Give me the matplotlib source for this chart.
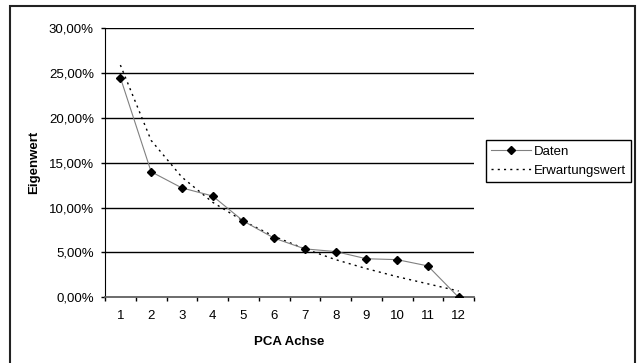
import matplotlib
matplotlib.use("Agg")
from matplotlib import pyplot as plt
from matplotlib.patches import Rectangle
from matplotlib.ticker import FuncFormatter, FixedLocator

# PCA axis numbers and eigenvalue shares (in percent)
achsen = [1, 2, 3, 4, 5, 6, 7, 8, 9, 10, 11, 12]
daten = [24.5, 14.0, 12.2, 11.3, 8.5, 6.6, 5.4, 5.1, 4.3, 4.2, 3.5, 0.0]
erwartung = [25.9, 17.5, 13.4, 10.6, 8.5, 6.8, 5.4, 4.2, 3.2, 2.3, 1.5, 0.7]
y_ticks = [0, 5, 10, 15, 20, 25, 30]

plt.rcParams['font.family'] = ['Liberation Sans', 'DejaVu Sans']
fs = 9.5

fig = plt.figure(figsize=(6.37, 3.63), dpi=100)
ax = fig.add_axes([105 / 637, 1 - 297.3 / 363, 369 / 637, 269 / 363])

# horizontal gridlines
for v in y_ticks[1:]:
    ax.axhline(v, color='black', lw=1.0, zorder=1)

ax.plot(achsen, daten, color='#808080', lw=0.8, marker='D', markersize=4,
        markerfacecolor='black', markeredgecolor='black', label='Daten', zorder=3)
ax.plot(achsen, erwartung, color='black', lw=1.0, linestyle=(0, (1.5, 3)),
        label='Erwartungswert', zorder=2)

ax.set_xlim(0.5, 12.5)
ax.set_ylim(0, 30)
ax.set_yticks(y_ticks)
ax.yaxis.set_major_formatter(FuncFormatter(lambda v, p: ('%.2f%%' % v).replace('.', ',')))

# ticks between categories, labels centred on categories
ax.xaxis.set_major_locator(FixedLocator([i + 0.5 for i in range(0, 13)]))
ax.xaxis.set_minor_locator(FixedLocator(achsen))
ax.set_xticklabels([])
ax.set_xticklabels([str(a) for a in achsen], minor=True)
ax.tick_params(axis='x', which='major', length=3, width=1, color='black', direction='out')
ax.tick_params(axis='x', which='minor', length=0, pad=9.5, labelsize=fs)
ax.tick_params(axis='y', length=3, width=1, direction='out', pad=5, labelsize=fs)

ax.spines['top'].set_visible(False)
ax.spines['right'].set_visible(False)
ax.spines['left'].set_color('black')
ax.spines['bottom'].set_color('#606060')
ax.spines['bottom'].set_linewidth(1.3)

ax.set_ylabel('Eigenwert', fontsize=fs, fontweight='bold')
ax.yaxis.set_label_coords((34 - 105) / 369, 0.5)
ax.set_xlabel('PCA Achse', fontsize=fs, fontweight='bold')
ax.xaxis.set_label_coords(0.5, -(341.7 - 297.3) / 269)
ax.xaxis.label.set_va('center')
ax.yaxis.label.set_va('center')

leg = ax.legend(loc='upper left', bbox_to_anchor=(486 / 637, 1 - 140 / 363),
                bbox_transform=fig.transFigure, borderaxespad=0, fontsize=fs,
                frameon=True, fancybox=False, framealpha=1, edgecolor='black',
                handlelength=3.0, handletextpad=0.2, borderpad=0.4, labelspacing=0.55)
leg.get_frame().set_linewidth(1.0)

# chart area border
fig.add_artist(Rectangle((10 / 637, -0.05), 625 / 637, 1.05 - 6 / 363,
                         transform=fig.transFigure, fill=False, lw=1.5, ec='#222222'))

fig.savefig('out.png', dpi=100)
